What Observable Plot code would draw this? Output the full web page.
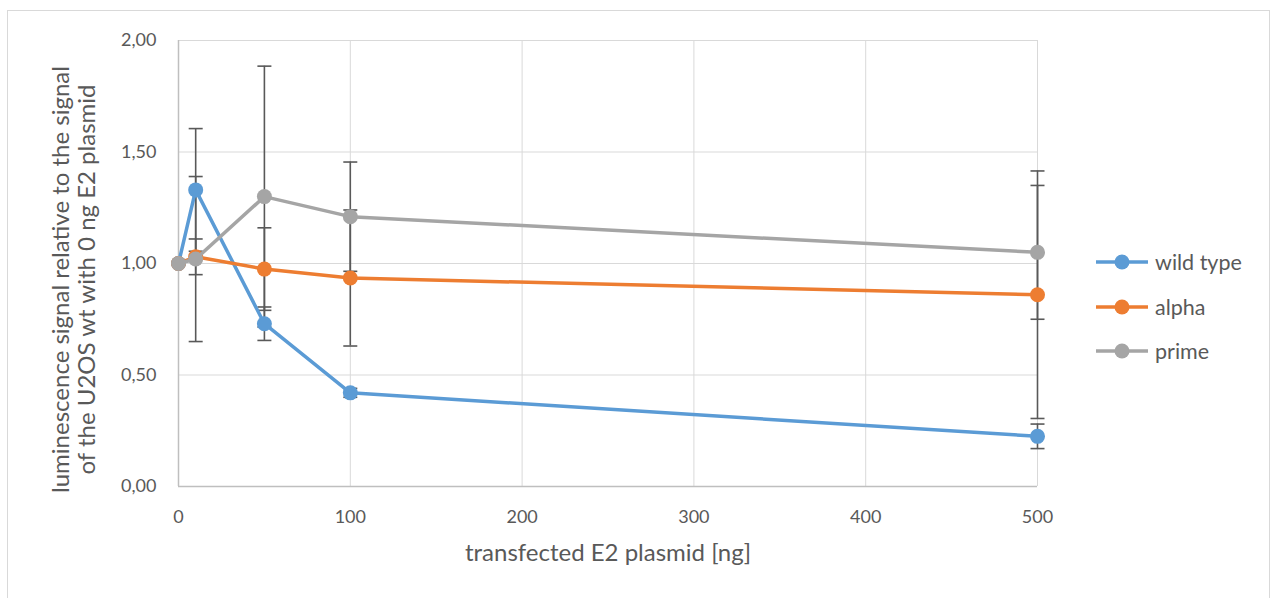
<!DOCTYPE html>
<html>
<head>
<meta charset="utf-8">
<script src="https://cdn.jsdelivr.net/npm/d3@7"></script>
<script src="https://cdn.jsdelivr.net/npm/@observablehq/plot@0.6"></script>
<style>
  html, body { margin: 0; padding: 0; background: #fff; }
  #wrap { position: relative; width: 1275px; height: 598px; overflow: hidden; font-family: Lato, sans-serif; }
  #frame { position: absolute; left: 7px; top: 10px; width: 1263px; height: 600px; border: 1px solid #D9D9D9; box-sizing: border-box; pointer-events: none; }
  #legend { position: absolute; left: 1095px; top: 240px; color: #595959; font-size: 21.5px; }
  .item { display: flex; align-items: center; height: 44.5px; }
  .item svg { margin-right: 6px; }
</style>
</head>
<body>
<div id="wrap">
  <div id="frame"></div>
  <div id="chart"></div>
  <div id="legend"></div>
</div>
<script>
const doses = [0, 10, 50, 100, 500];
const seriesNames = ["wild type", "alpha", "prime"];
const wildType = [1.00, 1.33, 0.73, 0.42, 0.225];
const wildTypeErr = [0, 0.275, 0.075, 0.02, 0.055];
const alpha = [1.00, 1.03, 0.975, 0.935, 0.86];
const alphaErr = [0, 0.08, 0.185, 0.305, 0.555];
const prime = [1.00, 1.02, 1.30, 1.21, 1.05];
const primeErr = [0, 0.37, 0.585, 0.245, 0.30];
const xTicks = [0, 100, 200, 300, 400, 500];
const yTicks = [0, 0.5, 1, 1.5, 2];
const colors = ["#5B9BD5", "#ED7D31", "#A5A5A5"];
const xLabel = "transfected E2 plasmid [ng]";
const yLabel = "luminescence signal relative to the signal\nof the U2OS wt with 0 ng E2 plasmid";

const valuesBySeries = [wildType, alpha, prime];
const errBySeries = [wildTypeErr, alphaErr, primeErr];
const rows = [];
seriesNames.forEach((s, i) => {
  doses.forEach((d, j) => {
    rows.push({series: s, dose: d, value: valuesBySeries[i][j], err: errBySeries[i][j], idx: i});
  });
});
const errRows = rows.filter(r => r.err > 0);
const capSymbol = { draw(ctx, size) { const w = 7; ctx.moveTo(-w, 0); ctx.lineTo(w, 0); } };
const fmt = d => d3.format(".2f")(d).replace(".", ",");

const marks = [
  Plot.gridX(xTicks, {stroke: "#D9D9D9", strokeOpacity: 1, strokeWidth: 1}),
  Plot.gridY(yTicks, {stroke: "#D9D9D9", strokeOpacity: 1, strokeWidth: 1}),
  Plot.ruleX([0], {stroke: "#BFBFBF", strokeWidth: 1.5}),
  Plot.ruleY([0], {stroke: "#BFBFBF", strokeWidth: 1.5}),
  Plot.axisX(xTicks, {tickSize: 0, tickPadding: 24, tickFormat: d => String(d), fontSize: 18, label: null, color: "#595959"}),
  Plot.axisY(yTicks, {tickSize: 0, tickPadding: 22, tickFormat: fmt, fontSize: 18, label: null, color: "#595959"}),
  Plot.text([xLabel], {frameAnchor: "bottom", dy: 74, text: d => d, fontSize: 24, fill: "#595959"}),
  Plot.text([yLabel], {frameAnchor: "left", dx: -105, dy: 16, rotate: -90, textAnchor: "middle", text: d => d, fontSize: 24, lineHeight: 1.08, fill: "#595959"}),
  Plot.ruleX(errRows, {x: "dose", y1: d => d.value - d.err, y2: d => d.value + d.err, stroke: "#595959", strokeWidth: 1.6}),
  Plot.dot(errRows, {x: "dose", y: d => d.value - d.err, symbol: capSymbol, stroke: "#595959", strokeWidth: 1.6, fill: "none", r: 7}),
  Plot.dot(errRows, {x: "dose", y: d => d.value + d.err, symbol: capSymbol, stroke: "#595959", strokeWidth: 1.6, fill: "none", r: 7})
];
seriesNames.forEach((s, i) => {
  const data = rows.filter(r => r.series === s);
  marks.push(Plot.line(data, {x: "dose", y: "value", stroke: colors[i], strokeWidth: 3.5}));
  marks.push(Plot.dot(data, {x: "dose", y: "value", fill: colors[i], r: 7.5}));
});

const chart = Plot.plot({
  width: 1275,
  height: 598,
  marginLeft: 178,
  marginRight: 238,
  marginTop: 40,
  marginBottom: 112,
  style: {fontFamily: "Lato, sans-serif", fontSize: "18px", color: "#595959", background: "transparent"},
  x: {domain: [0, 500]},
  y: {domain: [0, 2]},
  marks
});
document.getElementById("chart").appendChild(chart);

const legend = document.getElementById("legend");
seriesNames.forEach((s, i) => {
  const item = document.createElement("div");
  item.className = "item";
  item.innerHTML = `<svg width="54" height="18"><line x1="1" x2="53" y1="9" y2="9" stroke="${colors[i]}" stroke-width="3.5"/><circle cx="27" cy="9" r="7.5" fill="${colors[i]}"/></svg><span>${s}</span>`;
  legend.appendChild(item);
});
</script>
</body>
</html>
